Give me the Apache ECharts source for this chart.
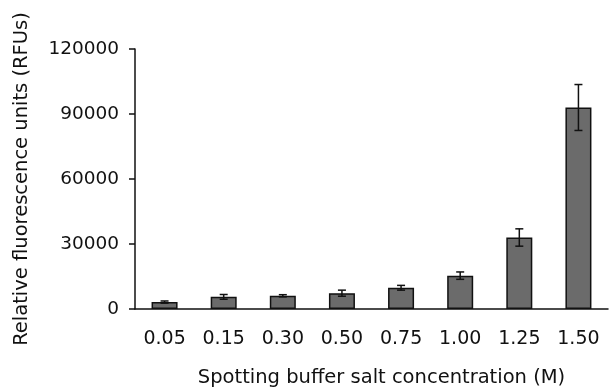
<!DOCTYPE html>
<html>
<head>
<meta charset="utf-8">
<script src="https://cdn.jsdelivr.net/npm/echarts@6/dist/echarts.min.js"></script>
<style>
  html, body { margin: 0; padding: 0; background: #fff; }
  #main { width: 611px; height: 387px; }
</style>
</head>
<body>
<div id="main"></div>
<script>
// salt concentration (M) on x, RFU on y
var categories = ['0.05', '0.15', '0.30', '0.50', '0.75', '1.00', '1.25', '1.50'];
var meanValues = [3200, 5600, 6100, 7300, 9800, 15400, 33000, 93000];
var errValues  = [500, 1100, 500, 1400, 1100, 1700, 4000, 10600];
var yTicks = [0, 30000, 60000, 90000, 120000];

var font = 'DejaVu Sans';
var ink = '#111';

var errData = categories.map(function (c, i) {
    return [i, meanValues[i] - errValues[i], meanValues[i] + errValues[i]];
});

var myChart = echarts.init(document.getElementById('main'));
myChart.setOption({
    animation: false,
    backgroundColor: '#fff',
    grid: { left: 135, right: 3, top: 49, bottom: 78, containLabel: false, outerBoundsMode: 'none' },
    xAxis: {
        type: 'category',
        data: categories,
        name: 'Spotting buffer salt concentration (M)',
        nameLocation: 'middle',
        nameGap: 59,
        nameTextStyle: { fontFamily: font, fontSize: 19.5, color: ink, padding: [0, 0, 0, 20] },
        axisLine: { lineStyle: { color: ink, width: 1.5 } },
        axisTick: { inside: true, length: 6, lineStyle: { color: ink, width: 1.5 } },
        axisLabel: { fontFamily: font, fontSize: 19, color: ink, margin: 21 }
    },
    yAxis: {
        type: 'value',
        min: yTicks[0],
        max: yTicks[yTicks.length - 1],
        interval: yTicks[1] - yTicks[0],
        name: 'Relative fluorescence units (RFUs)',
        nameLocation: 'middle',
        nameGap: 103,
        nameTextStyle: { fontFamily: font, fontSize: 19.5, color: ink },
        axisLine: { show: true, lineStyle: { color: ink, width: 1.5 } },
        axisTick: { show: true, length: 6, lineStyle: { color: ink, width: 1.5 } },
        axisLabel: {
            fontFamily: font, fontSize: 18.5, color: ink, margin: 16,
            formatter: function (v) { return String(v); }
        },
        splitLine: { show: false }
    },
    series: [
        {
            type: 'bar',
            data: meanValues,
            barWidth: '44%',
            itemStyle: { color: '#6b6b6b', borderColor: ink, borderWidth: 1.5 }
        },
        {
            type: 'custom',
            data: errData,
            z: 10,
            renderItem: function (params, api) {
                var x = api.value(0);
                var lo = api.coord([x, api.value(1)]);
                var hi = api.coord([x, api.value(2)]);
                var hw = 4;
                var st = { stroke: ink, lineWidth: 1.5 };
                return {
                    type: 'group',
                    children: [
                        { type: 'line', shape: { x1: lo[0], y1: lo[1], x2: hi[0], y2: hi[1] }, style: st },
                        { type: 'line', shape: { x1: lo[0] - hw, y1: lo[1], x2: lo[0] + hw, y2: lo[1] }, style: st },
                        { type: 'line', shape: { x1: hi[0] - hw, y1: hi[1], x2: hi[0] + hw, y2: hi[1] }, style: st }
                    ]
                };
            }
        }
    ]
});
</script>
</body>
</html>
